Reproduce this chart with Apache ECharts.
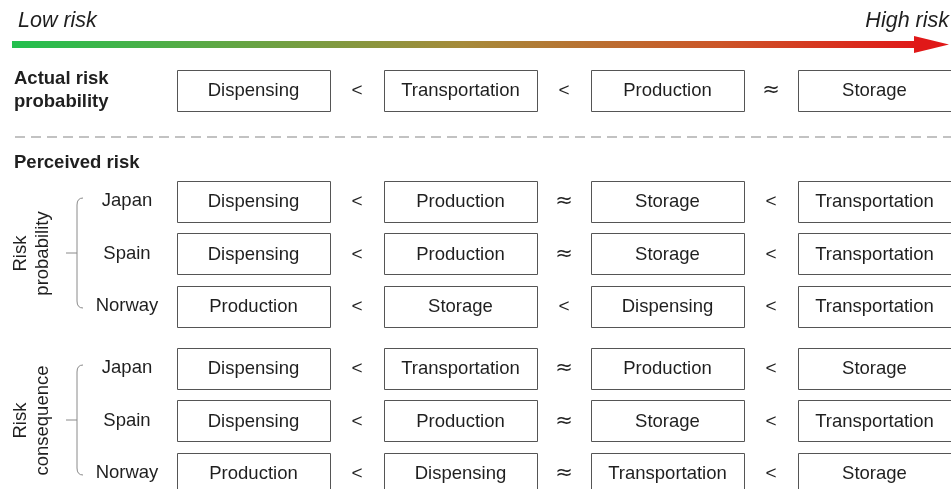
<!DOCTYPE html>
<html>
<head>
<meta charset="utf-8">
<script src="https://cdn.jsdelivr.net/npm/echarts@6/dist/echarts.min.js"></script>
<style>
html, body { margin: 0; padding: 0; background: #fff; }
#chart { width: 951px; height: 489px; }
</style>
</head>
<body>
<div id="chart"></div>
<script>
// ranking columns, lowest risk on the left
const ranks = ['1', '2', '3', '4'];

const actualLabel = ['Actual risk\nprobability'];
const actualOrder = [['Dispensing', 'Transportation', 'Production', 'Storage']];
const actualRel = [['<', '<', '≈']];

const countries = ['Japan', 'Spain', 'Norway'];

const probOrder = [
    ['Dispensing', 'Production', 'Storage', 'Transportation'],
    ['Dispensing', 'Production', 'Storage', 'Transportation'],
    ['Production', 'Storage', 'Dispensing', 'Transportation'],
];
const probRel = [['<', '≈', '<'], ['<', '≈', '<'], ['<', '<', '<']];

const consOrder = [
    ['Dispensing', 'Transportation', 'Production', 'Storage'],
    ['Dispensing', 'Production', 'Storage', 'Transportation'],
    ['Production', 'Dispensing', 'Transportation', 'Storage'],
];
const consRel = [['<', '≈', '<'], ['<', '≈', '<'], ['<', '≈', '<']];

const groupNames = ['Risk\nprobability', 'Risk\nconsequence'];

const FONT = '"Liberation Sans", Arial, sans-serif';
const TXT = '#1f1f1f';

const chart = echarts.init(document.getElementById('chart'));

// flatten a table of names into [col, row] items + label lookup
function cells(order) {
    const items = [], labels = [];
    order.forEach((row, r) => row.forEach((name, c) => {
        items.push([c, r]);
        labels.push(name);
    }));
    return { items, labels };
}

function boxSeries(order, gi) {
    const d = cells(order);
    return {
        type: 'custom',
        xAxisIndex: gi,
        yAxisIndex: gi,
        data: d.items,
        renderItem: function (params, api) {
            const c = api.coord([api.value(0), api.value(1)]);
            const s = api.size([1, 1]);
            const w = s[0] * 0.74, h = s[1] * 0.78;
            return {
                type: 'group',
                children: [
                    {
                        type: 'rect',
                        shape: { x: Math.round(c[0] - w / 2) + 0.5, y: Math.round(c[1] - h / 2) + 0.5, width: Math.round(w), height: Math.round(h) },
                        style: { fill: '#fff', stroke: '#555', lineWidth: 1 },
                    },
                    {
                        type: 'text',
                        x: c[0],
                        y: c[1] + 1,
                        style: {
                            text: d.labels[params.dataIndex],
                            align: 'center',
                            verticalAlign: 'middle',
                            fontSize: 18.5,
                            fontFamily: FONT,
                            fill: TXT,
                        },
                    },
                ],
            };
        },
    };
}

function relSeries(rel, gi) {
    const d = cells(rel);
    return {
        type: 'custom',
        xAxisIndex: gi,
        yAxisIndex: gi,
        data: d.items,
        renderItem: function (params, api) {
            const c = api.coord([api.value(0), api.value(1)]);
            const s = api.size([1, 1]);
            const sym = d.labels[params.dataIndex];
            const approx = sym === '≈';
            return {
                type: 'text',
                x: c[0] + s[0] / 2,
                y: c[1] + 1,
                style: {
                    text: sym,
                    align: 'center',
                    verticalAlign: 'middle',
                    fontSize: approx ? 21 : 19,
                    fontFamily: approx ? '"DejaVu Sans", sans-serif' : FONT,
                    fill: TXT,
                },
            };
        },
    };
}

function bracketSeries(gi) {
    return {
        type: 'custom',
        xAxisIndex: gi,
        yAxisIndex: gi,
        data: [[0, 0]],
        renderItem: function (params, api) {
            const top = api.coord([0, 0]);
            const bot = api.coord([0, countries.length - 1]);
            const bx = top[0] - 176.5;
            const y1 = top[1] - 3, y2 = bot[1] + 2, ym = (y1 + y2) / 2;
            const st = { stroke: '#8a8a8a', lineWidth: 1, fill: null };
            return {
                type: 'group',
                children: [
                    { type: 'bezierCurve', shape: { x1: bx + 6, y1: y1, x2: bx, y2: y1 + 7, cpx1: bx, cpy1: y1 }, style: st },
                    { type: 'line', shape: { x1: bx, y1: y1 + 7, x2: bx, y2: y2 - 7 }, style: st },
                    { type: 'bezierCurve', shape: { x1: bx, y1: y2 - 7, x2: bx + 6, y2: y2, cpx1: bx, cpy1: y2 }, style: st },
                    { type: 'line', shape: { x1: bx - 11, y1: ym, x2: bx, y2: ym }, style: st },
                ],
            };
        },
    };
}

// grids run past the right/bottom edge like the cropped original
const grids = [
    { left: 150, width: 828, top: 63.75, height: 52.5, outerBoundsMode: 'none' },
    { left: 150, width: 828, top: 174.75, height: 157.5, outerBoundsMode: 'none' },
    { left: 150, width: 828, top: 341.75, height: 157.5, outerBoundsMode: 'none' },
];

const xAxes = grids.map((g, i) => ({
    type: 'category',
    gridIndex: i,
    data: ranks,
    show: false,
}));

const hidden = { axisLine: { show: false }, axisTick: { show: false }, splitLine: { show: false } };

const yAxes = [
    Object.assign({
        type: 'category',
        gridIndex: 0,
        data: actualLabel,
        axisLabel: { align: 'left', margin: 136, fontSize: 18.5, fontWeight: 'bold', lineHeight: 23, padding: [2, 0, 0, 0], fontFamily: FONT, color: TXT },
    }, hidden),
];
[1, 2].forEach((gi) => {
    yAxes.push(Object.assign({
        type: 'category',
        gridIndex: gi,
        inverse: true,
        data: countries,
        name: groupNames[gi - 1],
        nameLocation: 'middle',
        nameRotate: 90,
        nameGap: 96,
        nameTextStyle: { fontSize: 18.5, lineHeight: 22, fontFamily: FONT, color: TXT },
        axisLabel: { align: 'center', margin: 23, fontSize: 18.5, padding: [3, 0, 0, 0], fontFamily: FONT, color: TXT },
    }, hidden));
});

const option = {
    animation: false,
    backgroundColor: '#fff',
    grid: grids,
    xAxis: xAxes,
    yAxis: yAxes,
    series: [
        boxSeries(actualOrder, 0),
        relSeries(actualRel, 0),
        boxSeries(probOrder, 1),
        relSeries(probRel, 1),
        bracketSeries(1),
        boxSeries(consOrder, 2),
        relSeries(consRel, 2),
        bracketSeries(2),
    ],
    graphic: [
        {
            type: 'rect',
            shape: { x: 12, y: 41, width: 906, height: 7 },
            style: {
                fill: new echarts.graphic.LinearGradient(0, 0, 1, 0, [
                    { offset: 0, color: '#22c04e' },
                    { offset: 0.5, color: '#a68a3a' },
                    { offset: 0.78, color: '#cc5628' },
                    { offset: 1, color: '#e01818' },
                ]),
            },
        },
        {
            type: 'polygon',
            shape: { points: [[914, 36], [949, 44.5], [914, 53]] },
            style: { fill: '#e01818' },
        },
        {
            type: 'text',
            x: 18, y: 21,
            style: { text: 'Low risk', fontSize: 21.5, fontStyle: 'italic', fontFamily: FONT, fill: TXT, verticalAlign: 'middle' },
        },
        {
            type: 'text',
            x: 949, y: 21,
            style: { text: 'High risk', fontSize: 21.5, fontStyle: 'italic', fontFamily: FONT, fill: TXT, align: 'right', verticalAlign: 'middle' },
        },
        {
            type: 'line',
            shape: { x1: 15, y1: 137, x2: 951, y2: 137 },
            style: { stroke: '#c2c2c2', lineWidth: 2, lineDash: [10, 6] },
        },
        {
            type: 'text',
            x: 14, y: 163,
            style: { text: 'Perceived risk', fontSize: 18.5, fontWeight: 'bold', fontFamily: FONT, fill: TXT, verticalAlign: 'middle' },
        },
    ],
};

chart.setOption(option);
</script>
</body>
</html>
